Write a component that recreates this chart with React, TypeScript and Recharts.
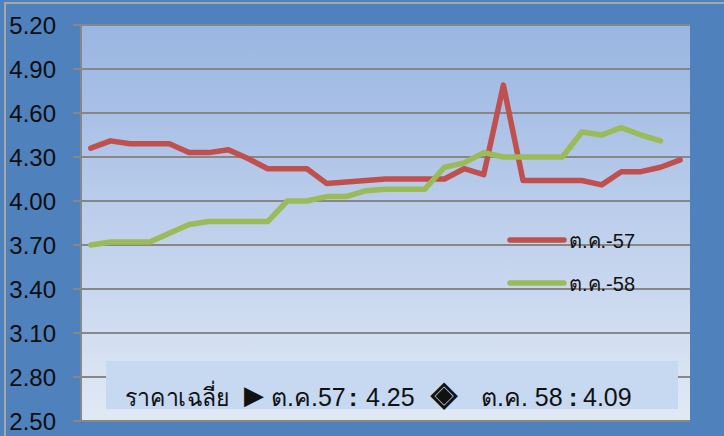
import React from 'react';
import { LineChart, Line, XAxis, YAxis, CartesianGrid } from 'recharts';

const weeks = Array.from({ length: 31 }, (_, i) => `${i + 1}`);
const oct57 = [
  4.36, 4.41, 4.39, 4.39, 4.39, 4.33, 4.33, 4.35, 4.29, 4.22, 4.22, 4.22, 4.12, 4.13, 4.14, 4.15,
  4.15, 4.15, 4.15, 4.22, 4.18, 4.79, 4.14, 4.14, 4.14, 4.14, 4.11, 4.2, 4.2, 4.23, 4.28,
];
const oct58 = [
  3.7, 3.72, 3.72, 3.72, 3.78, 3.84, 3.86, 3.86, 3.86, 3.86, 4.0, 4.0, 4.03, 4.03, 4.07, 4.08,
  4.08, 4.08, 4.23, 4.26, 4.33, 4.3, 4.3, 4.3, 4.3, 4.47, 4.45, 4.5, 4.45, 4.41, null,
];
const yTicks = [2.5, 2.8, 3.1, 3.4, 3.7, 4.0, 4.3, 4.6, 4.9, 5.2];
const seriesNames = ['ต.ค.-57', 'ต.ค.-58'];
const seriesColors = ['#C0504D', '#9BBB59'];
const avgLabel = 'ราคาเฉลี่ย';
const avgNames = ['ต.ค.57', 'ต.ค. 58'];
const avgValues = ['4.25', '4.09'];

const data = weeks.map((w, i) => ({ week: w, a: oct57[i], b: oct58[i] }));

const font = "'Liberation Sans', Arial, sans-serif";

export default function App() {
  return (
    <div
      style={{
        position: 'absolute',
        left: 0,
        top: 0,
        width: 724,
        height: 436,
        background: '#4F81BD',
        overflow: 'hidden',
      }}
    >
      <div
        style={{
          position: 'absolute',
          left: 4,
          top: 2,
          width: 720,
          height: 434,
          borderLeft: '2px solid #A6A6A6',
          borderTop: '2px solid #A6A6A6',
          boxSizing: 'border-box',
        }}
      />
      <LineChart width={724} height={436} data={data} margin={{ top: 25, right: 34, bottom: 15, left: 0 }}>
        <defs>
          <linearGradient id="plotBg" x1="0" y1="0" x2="0" y2="1">
            <stop offset="0%" stopColor="#99B5E2" />
            <stop offset="100%" stopColor="#E1E9F5" />
          </linearGradient>
        </defs>
        <CartesianGrid
          vertical={false}
          stroke="#878787"
          strokeWidth={2}
          fill="url(#plotBg)"
          fillOpacity={1}
        />
        <XAxis dataKey="week" hide padding={{ left: 9.8, right: 9.8 }} />
        <YAxis
          width={81}
          domain={[2.5, 5.2]}
          ticks={yTicks}
          interval={0}
          tickFormatter={(v: number) => v.toFixed(2)}
          tick={{ fill: '#0d0d0d', fontSize: 24, fontFamily: font }}
          tickSize={8}
          tickMargin={17}
          tickLine={{ stroke: '#878787', strokeWidth: 2 }}
          axisLine={{ stroke: '#878787', strokeWidth: 2 }}
        />
        <Line
          name={seriesNames[0]}
          dataKey="a"
          stroke={seriesColors[0]}
          strokeWidth={5.5}
          strokeLinecap="round"
          strokeLinejoin="round"
          dot={false}
          isAnimationActive={false}
        />
        <Line
          name={seriesNames[1]}
          dataKey="b"
          stroke={seriesColors[1]}
          strokeWidth={5.5}
          strokeLinecap="round"
          strokeLinejoin="round"
          dot={false}
          isAnimationActive={false}
        />
      </LineChart>

      {/* legend + average box drawn on top */}
      <svg width={724} height={436} style={{ position: 'absolute', left: 0, top: 0 }} fontFamily={font}>
        {seriesNames.map((n, i) => (
          <g key={n}>
            <line x1={510} x2={564} y1={240 + i * 43} y2={240 + i * 43} stroke={seriesColors[i]} strokeWidth={5.5} strokeLinecap="round" />
            <text x={569} y={248 + i * 43} fontSize={20} fill="#111">{n}</text>
          </g>
        ))}

        <rect x={106} y={361} width={572} height={48} fill="#C6D9F1" />
        <g fontSize={25} fill="#111">
          <text x={125} y={406} textLength={105} lengthAdjust="spacingAndGlyphs">{avgLabel}</text>
          <text x={244} y={404} fontSize={26}>▶</text>
          <text x={271} y={406}>{avgNames[0]}</text>
          <text x={349} y={406} fontWeight="bold">:</text>
          <text x={366} y={406}>{avgValues[0]}</text>
          <text x={431} y={405} fontSize={34} fontWeight="bold">◈</text>
          <text x={481} y={406}>{avgNames[1]}</text>
          <text x={569} y={406} fontWeight="bold">:</text>
          <text x={583} y={406}>{avgValues[1]}</text>
        </g>
      </svg>
    </div>
  );
}
